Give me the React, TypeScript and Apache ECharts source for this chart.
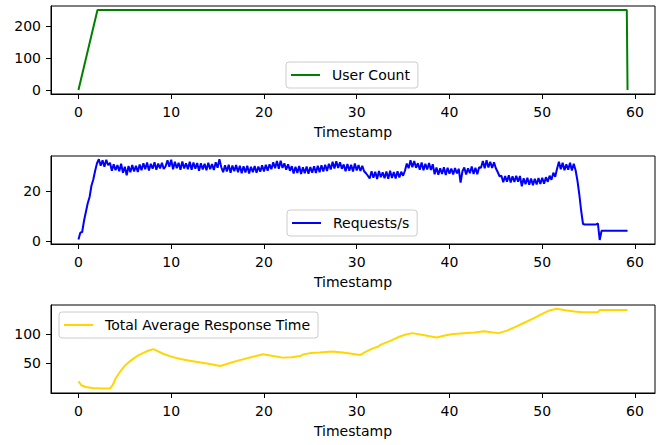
import React, { useEffect, useRef } from "react";
import * as echarts from "echarts";

const FONT = "DejaVu Sans";

const X_TICKS = [0, 10, 20, 30, 40, 50, 60];
const Y_TICKS_USERS = [0, 100, 200];
const Y_TICKS_REQ = [0, 20];
const Y_TICKS_RESP = [50, 100];

// User Count
const USER_T = [0, 2.05, 59.12, 59.2];
const USER_COUNT = [0, 250, 250, 0];

// Requests/s sampled every 0.2 s
const REQ_STEP = 0.2;
const REQUESTS = [
  0.5, 3.2, 3.5, 8, 11.5, 15, 17.5, 22, 24.5, 28, 31,
  32.6, 30.0, 32.2, 29.6, 32.4, 30.2,
  31.2, 28.0, 30.6, 28.2, 30.3, 27.8, 30.8, 27.2, 29.6, 26.2, 29.9,
  27.4, 30.3, 27.7, 30.0, 27.5, 30.5,
  28.2, 31.0, 28.6, 31.3, 28.1, 30.8, 28.8, 31.4, 28.4, 30.9, 28.9, 31.2, 28.7,
  29.8, 32.2, 29.6, 32.4,
  28.6, 31.6, 29.0, 31.2, 28.4, 31.7, 28.9, 31.0, 28.6, 31.6, 28.4, 31.3, 28.8, 31.1,
  28.0, 31.0, 28.5, 30.8, 28.2, 31.2, 28.6, 30.7, 28.3, 31.4,
  29.2, 32.6, 29.4,
  27.4, 30.2, 27.7, 30.4, 27.2, 30.1, 27.8, 30.3, 27.4, 30.0,
  27.0, 29.8, 27.3, 30.0, 26.9, 29.6, 27.4, 29.9, 27.2, 29.7, 27.6, 30.2, 27.7, 30.4, 28.0, 30.6,
  28.6, 31.4, 29.0, 31.9, 28.8, 32.0, 29.1,
  31.0, 28.4, 30.6, 28.0,
  29.8, 26.9, 29.6, 27.1, 29.9, 26.7, 29.4, 27.0, 29.7, 26.8, 29.5, 27.2, 29.8, 27.1,
  30.0, 27.4, 30.2, 27.7, 30.4, 27.9, 30.8, 28.5,
  31.6, 28.9, 31.8, 29.1, 31.4, 28.8,
  30.5, 27.8, 30.7, 28.0, 30.4, 27.7, 30.9, 28.1, 30.3,
  27.9, 30.0,
  27.8, 27.0, 26.0,
  24.9, 27.8, 25.2, 27.6, 24.7, 27.9, 25.4, 27.4, 25.0, 27.7, 24.8, 28.0, 25.1, 27.5, 24.9, 27.8, 25.3, 27.6, 26.0,
  28.0, 30.9, 29.0,
  32.2, 29.4, 31.9, 29.2,
  31.0, 28.4, 31.3, 28.2, 30.8, 28.5, 31.1, 28.3, 30.6,
  26.6, 29.3, 26.4, 29.0, 26.7, 29.4, 26.3, 29.2, 26.8, 28.9, 26.5, 29.1, 26.9, 28.8,
  23.3, 27.8,
  29.3, 26.5, 29.0, 27.0, 29.7, 26.7, 29.2, 26.6, 29.4,
  29.2, 31.9, 29.0, 32.2, 29.3, 31.6, 29.1, 31.4,
  29.0, 27.5,
  25.8,
  26.0, 23.4, 25.9, 23.6, 26.2, 23.3, 25.8, 23.5, 26.0,
  23.6, 25.9, 21.8,
  25.0, 22.6, 25.2, 22.4, 24.9, 22.2, 24.8, 22.5, 25.1, 22.7, 25.2, 22.8,
  25.4, 23.6, 26.0, 24.4,
  27.2, 25.6, 28.8,
  31.6, 28.6, 31.2,
  28.2, 30.6, 28.4, 31.2, 28.1, 30.8, 28.2,
  24.0, 18.5, 12.0, 6.7,
  6.5, 6.5, 6.5, 6.5, 6.5, 6.5, 6.5, 7.0,
  0.3,
  4.0, 4.0, 4.0, 4.0, 4.0, 4.0, 4.0, 4.0, 4.0, 4.0, 4.0, 4.0, 4.0, 4.0, 4.0,
];

// Total Average Response Time
const RESP_T = [
  0, 0.3, 0.8, 1.5, 2.5, 3.4, 3.7, 4.0, 4.5, 5.0, 5.5, 6.0, 6.5, 7.0, 7.5, 8.1,
  8.6, 9.2, 10.0, 11.0, 12.0, 13.0, 14.0, 15.3, 16.5, 17.5, 18.5, 19.9, 21.0,
  22.0, 23.0, 23.9, 24.2, 25.0, 26.0, 27.3, 28.5, 30.4, 31.0, 31.8, 32.3, 32.6,
  33.5, 34.5, 35.2, 36.0, 37.3, 38.6, 39.5, 40.2, 41.5, 42.7, 43.7, 44.5, 45.3,
  46.2, 47.0, 48.0, 49.0, 50.1, 50.8, 51.5, 52.5, 53.5, 54.3, 56.0, 56.2, 59.2,
];
const RESP_TIME = [
  19.5, 12.5, 9.5, 8, 7.2, 6.9, 13, 24, 36, 46, 53, 59, 64, 68, 71.5, 74.3,
  70.5, 66, 61.5, 57.5, 54.5, 52, 49.5, 45.4, 51.5, 56, 60, 65.5, 62.5,
  59.8, 60.5, 62.5, 65, 67.5, 68.5, 70.1, 68.5, 64.4, 70, 76, 78.5, 82,
  87.5, 95, 99, 101.7, 98, 94.3, 97.5, 99.6, 101.3, 102.8, 104.8, 103.2, 101.7,
  106, 111.5, 119, 126.5, 135.5, 140.5, 143.2, 140.8, 138.5, 137.5, 137.5, 141.2, 141.2,
];

const X_MIN = -2.96;
const X_MAX = 62.16;

function xAxis(gridIndex: number) {
  return {
    type: "value",
    gridIndex,
    min: X_MIN,
    max: X_MAX,
    name: "Timestamp",
    nameLocation: "middle",
    nameGap: 31,
    nameTextStyle: { fontSize: 14, color: "#000", fontFamily: FONT },
    axisLine: { show: true, onZero: false, lineStyle: { color: "#000", width: 1 } },
    axisTick: { show: true, inside: false, length: 5, customValues: X_TICKS, lineStyle: { color: "#000", width: 1 } },
    axisLabel: { show: true, customValues: X_TICKS, margin: 11, fontSize: 14, color: "#000", fontFamily: FONT },
    splitLine: { show: false },
  };
}

function yAxis(gridIndex: number, min: number, max: number, ticks: number[]) {
  return {
    type: "value",
    gridIndex,
    min,
    max,
    axisLine: { show: true, onZero: false, lineStyle: { color: "#000", width: 1 } },
    axisTick: { show: true, inside: false, length: 5, customValues: ticks, lineStyle: { color: "#000", width: 1 } },
    axisLabel: { show: true, customValues: ticks, margin: 10, fontSize: 14, color: "#000", fontFamily: FONT },
    splitLine: { show: false },
  };
}

function legend(name: string, color: string, left: number, top: number) {
  return {
    data: [{ name, icon: "rect", itemStyle: { color } }],
    left,
    top,
    orient: "horizontal",
    padding: [6, 8, 6, 5],
    itemWidth: 29,
    itemHeight: 2,
    borderColor: "#cccccc",
    borderWidth: 1,
    borderRadius: 3,
    backgroundColor: "rgba(255,255,255,0.8)",
    selectedMode: false,
    textStyle: { fontSize: 14, color: "#000", fontFamily: FONT, padding: [0, 0, 0, 7] },
  };
}

export default function App() {
  const ref = useRef<HTMLDivElement>(null);

  useEffect(() => {
    document.body.style.margin = "0";
    if (!ref.current) return;
    const chart = echarts.init(ref.current, undefined, { renderer: "svg" });

    const userData = USER_T.map((t, i) => [t, USER_COUNT[i]]);
    const reqData = REQUESTS.map((v, i) => [+(i * REQ_STEP).toFixed(2), v]);
    const respData = RESP_T.map((t, i) => [t, RESP_TIME[i]]);

    const gridBase = { left: 51, right: 5, height: 88, show: true, borderColor: "#000", borderWidth: 1, backgroundColor: "transparent", containLabel: false };

    chart.setOption({
      animation: false,
      backgroundColor: "#fff",
      textStyle: { fontFamily: FONT },
      grid: [
        { ...gridBase, top: 6 },
        { ...gridBase, top: 156 },
        { ...gridBase, top: 305 },
      ],
      xAxis: [xAxis(0), xAxis(1), xAxis(2)],
      yAxis: [
        yAxis(0, -12.5, 262.5, Y_TICKS_USERS),
        yAxis(1, -1.3, 33.9, Y_TICKS_REQ),
        yAxis(2, -0.7, 149.8, Y_TICKS_RESP),
      ],
      legend: [
        legend("User Count", "#008000", 286, 62),
        legend("Requests/s", "#0000ff", 287, 210),
        legend("Total Average Response Time", "#ffd700", 59, 312),
      ],
      series: [
        {
          name: "User Count",
          type: "line",
          xAxisIndex: 0,
          yAxisIndex: 0,
          data: userData,
          symbol: "none",
          lineStyle: { color: "#008000", width: 2 },
          itemStyle: { color: "#008000" },
        },
        {
          name: "Requests/s",
          type: "line",
          xAxisIndex: 1,
          yAxisIndex: 1,
          data: reqData,
          symbol: "none",
          lineStyle: { color: "#0000ff", width: 2 },
          itemStyle: { color: "#0000ff" },
        },
        {
          name: "Total Average Response Time",
          type: "line",
          xAxisIndex: 2,
          yAxisIndex: 2,
          data: respData,
          symbol: "none",
          lineStyle: { color: "#ffd700", width: 2 },
          itemStyle: { color: "#ffd700" },
        },
      ],
    });

    return () => chart.dispose();
  }, []);

  return <div ref={ref} style={{ width: 660, height: 445 }} />;
}
